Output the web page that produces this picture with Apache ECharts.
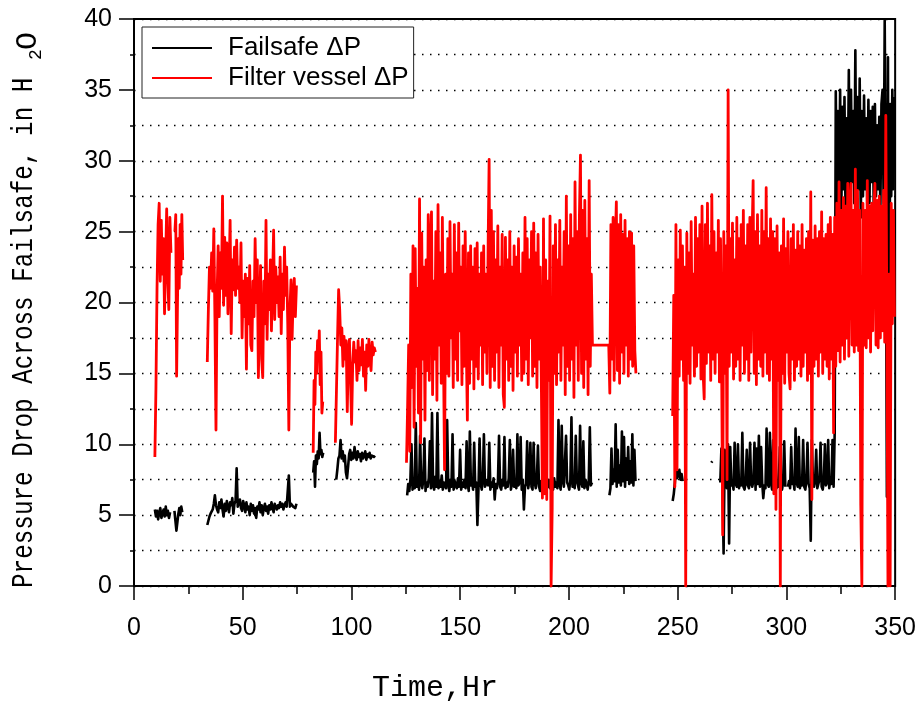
<!DOCTYPE html>
<html><head><meta charset="utf-8">
<script src="https://cdn.jsdelivr.net/npm/echarts@6/dist/echarts.min.js"></script>
<style>html,body{margin:0;padding:0;background:#fff}#c{width:919px;height:704px}</style>
</head><body><div id="c"></div>
<script>
// ---------- data (time spans in Hr, values in in H2O) ----------
const seriesNames = ['Failsafe \u0394P', 'Filter vessel \u0394P'];

// Filter vessel ΔP (red)
const redA1Span = [9.6, 17.0];
const redA1 = [9.1, 14.0, 21.0, 25.5, 27.0, 21.5, 25.8, 22.0, 24.5, 19.2, 23.0, 26.6, 21.8, 19.5, 26.0, 23.5];
const redA2Span = [18.8, 22.4];
const redA2 = [25.0, 26.2, 14.8, 20.0, 24.5, 21.0, 25.5, 22.0, 26.2, 23.0];
const redBSpan = [33.7, 74.7];
const redB = [15.8, 19.5, 22.5, 21.0, 23.5, 20.8, 25.2, 19.0, 11.0, 20.5,
  24.0, 19.0, 23.5, 21.0, 27.5, 19.8, 24.6, 20.5, 24.2, 19.2,
  22.0, 25.8, 17.8, 23.0, 20.9, 23.9, 20.5, 24.4, 21.0, 22.5,
  20.0, 24.2, 17.5, 21.5, 19.0, 22.0, 15.3, 21.7, 18.5, 22.6,
  17.0, 16.6, 21.5, 19.0, 24.5, 20.0, 23.0, 14.7, 19.5, 22.6,
  16.0, 14.7, 21.5, 18.5, 25.8, 17.4, 22.0, 19.5, 23.0, 18.0,
  21.5, 25.1, 18.8, 22.5, 20.0, 21.8, 19.0, 23.2, 17.8, 22.0,
  19.5, 23.9, 20.5, 22.5, 18.5, 11.0, 19.5, 21.6, 17.4, 20.5,
  21.7, 19.0, 21.2];
const redCSpan = [82.4, 86.8];
const redC = [9.4, 14.5, 12.8, 16.5, 15.0, 17.3, 16.0, 18.0, 14.2, 16.5, 12.2, 13.0];
const redDSpan = [92.6, 111.0];
const redD = [10.1, 13.8, 17.5, 20.9, 19.5, 17.0, 18.2, 15.5, 17.6, 16.0,
  17.3, 12.3, 16.5, 17.4, 14.5, 11.4, 15.5, 17.2, 15.8, 16.6,
  14.5, 17.3, 15.2, 16.8, 15.6, 17.4, 14.8, 16.5, 13.8, 17.0,
  15.5, 17.4, 16.0, 15.2, 17.2, 16.3, 16.8, 16.5];
const redESpan = [125.3, 210.8];
const redE = [8.7, 12.5, 17.0, 9.5, 22.0, 14.0, 24.0, 11.2, 23.8, 15.5,
  21.0, 12.2, 27.3, 10.1, 24.9, 16.0, 22.5, 11.7, 23.0, 15.2,
  26.2, 14.5, 24.0, 26.4, 13.5, 21.5, 16.0, 25.0, 13.1, 26.9,
  17.0, 23.5, 14.3, 26.0, 16.5, 8.2, 22.0, 15.0, 24.5, 14.8,
  25.7, 17.5, 22.0, 14.0, 25.5, 16.0, 23.5, 14.5, 25.6, 18.0,
  22.5, 14.2, 24.0, 15.5, 25.0, 17.0, 11.7, 23.5, 14.3, 24.0,
  16.0, 22.5, 13.9, 23.8, 15.5, 24.2, 14.6, 22.0, 17.0, 23.5,
  14.2, 24.0, 16.5, 22.0, 15.0, 23.5, 30.1, 14.0, 26.5, 15.5,
  25.0, 14.5, 23.0, 16.5, 25.4, 14.0, 22.5, 17.0, 24.8, 13.5,
  12.6, 24.6, 16.0, 23.0, 14.5, 25.0, 15.5, 22.5, 13.8, 24.0,
  16.5, 23.2, 14.8, 24.5, 17.0, 22.0, 14.5, 23.5, 15.0, 26.0,
  16.0, 24.5, 14.2, 23.0, 17.5, 25.0, 14.8, 25.6, 15.5, 23.5,
  14.0, 24.8, 16.0, 22.5, 14.5, 6.2, 25.9, 6.5, 23.0, 6.1,
  21.5, 14.5, 26.1, 0.0, 5.5, 24.0, 15.0, 25.5, 14.2, 23.0,
  16.5, 25.8, 14.5, 22.5, 17.0, 25.0, 13.5, 27.5, 15.5, 24.0,
  14.5, 26.2, 16.0, 24.5, 13.3, 28.5, 17.0, 25.0, 14.5, 26.0,
  30.4, 15.0, 26.5, 14.0, 27.2, 16.0, 24.5, 13.5, 28.6, 15.5,
  22.0, 17.0];
const redFSpan = [218.3, 230.8];
const redF = [17.0, 13.6, 25.5, 16.0, 26.0, 14.5, 24.0, 27.1, 15.2, 25.5,
  14.3, 26.2, 16.5, 24.8, 15.0, 25.8, 17.0, 24.5, 14.8, 25.0,
  16.0, 24.9, 15.5, 24.0, 16.6, 15.0];
const redGSpan = [247.7, 349.7];
const redG = [12.0, 20.5, 7.0, 25.5, 8.2, 23.0, 14.8, 25.1, 16.0, 24.0,
  14.5, 22.5, 0.0, 24.9, 15.0, 23.5, 14.3, 25.7, 17.0, 22.0,
  14.8, 26.0, 15.5, 24.5, 16.5, 25.5, 14.6, 26.8, 15.0, 13.2,
  25.5, 15.7, 27.0, 16.5, 24.0, 14.5, 27.6, 16.0, 25.0, 15.0,
  23.5, 16.5, 25.8, 14.4, 24.5, 16.0, 3.6, 25.0, 15.0, 24.0,
  7.5, 35.0, 15.5, 24.5, 16.5, 25.6, 14.6, 23.0, 15.5, 26.0,
  16.0, 24.5, 14.5, 25.5, 17.0, 26.5, 15.0, 24.0, 16.0, 25.5,
  14.5, 26.0, 16.5, 24.5, 28.6, 15.0, 25.0, 14.2, 26.2, 16.0,
  24.0, 15.5, 26.5, 14.8, 25.0, 16.5, 28.1, 15.0, 24.5, 14.5,
  25.9, 16.0, 25.0, 6.5, 24.5, 5.4, 25.4, 14.5, 23.5, 0.0,
  24.0, 15.0, 25.9, 14.3, 23.8, 16.5, 25.0, 15.0, 13.9, 24.5,
  16.0, 25.5, 14.5, 23.7, 15.5, 25.0, 16.0, 24.0, 14.8, 25.5,
  15.5, 23.7, 16.5, 24.5, 14.5, 25.0, 15.0, 27.8, 6.1, 24.4,
  15.5, 25.4, 16.0, 24.5, 14.8, 25.0, 16.5, 26.4, 15.0, 24.5,
  16.0, 24.8, 15.5, 25.5, 14.6, 26.0, 16.0, 24.8, 10.8, 26.0,
  15.5, 27.0, 16.6, 28.5, 15.8, 26.5, 17.0, 27.4, 16.0, 26.8,
  17.5, 28.4, 16.2, 27.0, 28.4, 17.0, 26.5, 16.5, 29.4, 17.0,
  27.9, 16.6, 26.5, 5.7, 0.0, 27.0, 17.0, 26.5, 16.8, 28.6,
  17.5, 26.8, 16.5, 27.0, 18.0, 26.5, 28.4, 17.0, 27.2, 16.8,
  27.5, 17.5, 26.8, 18.0, 27.9, 17.2, 33.2, 18.5, 0.0, 22.0,
  0.0, 27.0, 18.5, 26.5, 19.0];

// Failsafe ΔP (black)
const blkA1Span = [9.6, 16.6];
const blkA1 = [5.4, 4.9, 5.3, 4.7, 5.2, 5.5, 4.8, 5.1, 5.4, 4.9, 5.6, 5.0, 5.3, 4.8, 5.2];
const blkA2Span = [18.6, 22.2];
const blkA2 = [5.3, 4.6, 3.9, 4.5, 5.1, 5.5, 5.0, 5.6, 5.2];
const blkBSpan = [33.7, 74.7];
const blkB = [4.3, 4.6, 4.9, 5.1, 5.0, 5.4, 5.8, 6.4, 5.7, 5.4,
  5.2, 5.9, 5.5, 6.1, 5.4, 4.9, 5.8, 5.3, 6.0, 5.6,
  5.2, 5.9, 5.7, 6.2, 5.1, 5.8, 6.0, 8.3, 5.6, 5.9,
  6.1, 5.5, 5.3, 6.0, 5.7, 5.2, 5.9, 5.4, 5.6, 5.0,
  5.8, 5.3, 5.7, 5.1, 5.5, 4.8, 5.6, 5.4, 5.9, 5.2,
  5.7, 5.0, 5.5, 5.8, 5.3, 5.6, 5.1, 5.7, 5.4, 5.9,
  5.5, 5.2, 5.8, 5.6, 5.4, 5.7, 5.5, 5.9, 5.6, 5.8,
  5.4, 5.7, 5.9, 5.6, 5.5, 7.8, 5.6, 5.8, 5.9, 5.6,
  5.7, 5.5, 5.8];
const blkCSpan = [82.4, 87.0];
const blkC = [8.0, 8.8, 7.0, 9.2, 8.6, 9.5, 9.0, 10.8, 9.3, 9.6, 9.1, 9.4];
const blkDSpan = [93.0, 110.8];
const blkD = [7.5, 8.2, 9.0, 9.2, 10.3, 9.0, 9.5, 8.8, 9.2, 8.0,
  7.6, 8.4, 9.3, 9.6, 8.9, 9.4, 9.0, 9.8, 9.2, 8.9,
  9.5, 9.1, 9.3, 8.8, 9.4, 9.0, 9.2, 9.5, 8.9, 9.3,
  9.1, 9.4, 9.0, 9.2, 9.3, 9.1, 9.2];
const blkESpan = [125.6, 210.6];
const blkE = [6.4, 7.2, 6.7, 7.5, 10.0, 6.8, 7.4, 6.9, 11.5, 7.0,
  7.6, 6.8, 10.6, 7.2, 6.9, 7.5, 10.4, 6.7, 7.3, 7.0,
  7.6, 10.2, 6.9, 12.2, 7.1, 6.8, 7.7, 7.0, 12.2, 6.9,
  7.4, 7.0, 7.8, 6.8, 7.3, 7.1, 6.9, 11.7, 7.2, 6.7,
  7.5, 7.0, 10.7, 6.8, 7.4, 7.1, 6.9, 7.6, 7.0, 9.6,
  6.8, 7.3, 7.0, 7.5, 6.9, 10.2, 7.2, 6.7, 10.9, 7.1,
  7.4, 6.8, 10.1, 7.0, 7.3, 4.3, 6.9, 10.4, 7.2, 6.8,
  7.5, 10.7, 7.0, 6.9, 7.4, 7.1, 10.1, 6.8, 7.3, 7.0,
  7.6, 6.1, 7.2, 6.9, 7.4, 10.6, 7.0, 6.8, 7.5, 7.1,
  10.5, 6.9, 7.3, 7.0, 7.6, 10.3, 6.8, 7.2, 9.6, 7.0,
  7.4, 6.9, 10.7, 7.1, 7.3, 10.5, 6.8, 7.5, 5.4, 7.0,
  7.2, 10.2, 6.9, 7.4, 10.1, 7.0, 6.8, 10.1, 7.3, 6.9,
  7.5, 9.9, 7.0, 6.7, 7.4, 6.9, 7.6, 7.1, 6.8, 7.3,
  7.0, 7.5, 6.9, 7.2, 7.4, 6.8, 7.6, 7.0, 7.3, 6.9,
  11.7, 7.2, 6.8, 11.3, 7.4, 7.0, 6.9, 10.6, 7.3, 7.1,
  6.8, 7.5, 11.9, 7.0, 7.2, 6.9, 10.6, 7.4, 7.1, 6.8,
  11.3, 7.3, 7.0, 10.2, 6.9, 7.5, 7.2, 6.8, 7.4, 11.2,
  7.1, 7.3];
const blkFSpan = [218.6, 230.6];
const blkF = [6.4, 6.9, 9.7, 7.2, 8.2, 7.4, 11.4, 7.0, 9.6, 7.3,
  8.5, 7.1, 10.9, 7.4, 10.5, 7.0, 9.0, 7.5, 9.8, 7.2,
  8.8, 7.3, 10.7, 7.1, 9.6, 7.4];
const blkG1Span = [247.7, 252.3];
const blkG1 = [6.0, 6.5, 7.3, 8.4, 7.6, 7.8, 8.2, 7.5, 7.9, 7.4];
const blkDotSpan = [265.5, 265.9];
const blkDot = [8.7, 8.8];
const blkG2Span = [269.6, 299.5];
const blkG2 = [7.3, 9.7, 7.0, 2.3, 9.6, 7.2, 6.9, 10.0, 3.0, 9.8,
  7.1, 7.4, 6.8, 10.1, 7.2, 7.0, 10.0, 6.9, 7.4, 7.1,
  10.8, 7.0, 6.8, 7.3, 9.6, 7.1, 6.9, 10.1, 7.2, 7.0,
  7.4, 10.1, 6.8, 9.7, 7.2, 10.6, 7.0, 9.8, 7.3, 6.2,
  7.1, 6.9, 11.1, 7.2, 7.0, 10.8, 7.3, 6.8, 10.3, 7.1,
  10.2, 6.9, 7.4, 7.0, 9.8, 7.2, 6.8, 7.3, 10.2, 7.0];
const blkG3Span = [300.7, 349.7];
const blkG3 = [7.0, 7.4, 6.9, 9.8, 7.2, 7.5, 6.8, 11.1, 7.3, 7.0,
  10.5, 6.9, 7.4, 7.1, 10.3, 7.0, 6.8, 7.5, 10.1, 7.2,
  6.9, 3.2, 10.3, 7.3, 7.0, 7.4, 9.6, 6.9, 7.2, 7.5,
  10.1, 7.0, 6.8, 7.4, 10.0, 7.1, 7.3, 10.3, 6.9, 7.5,
  7.2, 10.3, 7.0, 10.8,
  34.9, 26.5, 33.5, 27.0, 35.0, 25.5, 33.8, 28.0, 34.5, 26.0,
  33.0, 27.5, 36.4, 26.0, 35.0, 28.5, 33.5, 27.0, 37.8, 26.5,
  34.5, 28.0, 35.8, 26.0, 33.5, 27.5, 34.6, 28.0, 33.0, 26.5,
  34.3, 27.0, 33.5, 28.5, 33.8, 26.0, 34.0, 27.5, 32.5, 28.0,
  33.1, 26.5, 34.0, 35.0, 27.0, 39.9, 28.0, 6.3, 37.3, 3.3,
  34.0, 27.5, 35.0, 28.0, 34.5];

// ---------- build series data ----------
function seg(span, vals) {
  const step = (span[1] - span[0]) / (vals.length - 1);
  return vals.map((v, i) => [span[0] + i * step, v]);
}
// parts: [span, values, connectToPrevious]
function build(parts) {
  const out = [];
  parts.forEach((p, k) => {
    if (k > 0 && !p[2]) out.push([p[0][0], '-']);
    out.push(...seg(p[0], p[1]));
  });
  return out;
}
const blackData = build([
  [blkA1Span, blkA1], [blkA2Span, blkA2], [blkBSpan, blkB], [blkCSpan, blkC],
  [blkDSpan, blkD], [blkESpan, blkE], [blkFSpan, blkF], [blkG1Span, blkG1],
  [blkDotSpan, blkDot], [blkG2Span, blkG2], [blkG3Span, blkG3]
]);
const redData = build([
  [redA1Span, redA1], [redA2Span, redA2], [redBSpan, redB], [redCSpan, redC],
  [redDSpan, redD], [redESpan, redE], [redFSpan, redF, true], [redGSpan, redG]
]);

const dotted = { color: '#000', width: 1.3, type: [1.5, 6.5] };
const chart = echarts.init(document.getElementById('c'), null, { renderer: 'canvas' });
chart.setOption({
  animation: false,
  backgroundColor: '#fff',
  grid: { left: 134, right: 23, top: 19, bottom: 118, show: true, borderColor: '#000', borderWidth: 2, backgroundColor: 'transparent' },
  legend: {
    data: seriesNames,
    left: 142, top: 27, orient: 'vertical',
    icon: 'rect', itemWidth: 60, itemHeight: 2, itemGap: 4,
    padding: [8, 5, 7, 10],
    borderColor: '#222', borderWidth: 1, backgroundColor: '#fff',
    textStyle: { fontFamily: 'Liberation Sans', fontSize: 26, color: '#000', padding: [0, 0, 0, 11] }
  },
  xAxis: {
    type: 'value', min: 0, max: 350, interval: 50,
    axisLine: { show: true, onZero: false, lineStyle: { color: '#000', width: 2 } },
    axisTick: { show: true, length: 14, lineStyle: { color: '#000', width: 1.5 } },
    minorTick: { show: true, splitNumber: 2, length: 8, lineStyle: { color: '#000', width: 1.5 } },
    splitLine: { show: false },
    axisLabel: { fontFamily: 'Liberation Sans', fontSize: 25, color: '#000', margin: 30 }
  },
  yAxis: {
    type: 'value', min: 0, max: 40, interval: 5,
    axisLine: { show: true, onZero: false, lineStyle: { color: '#000', width: 2 } },
    axisTick: { show: true, length: 15, lineStyle: { color: '#000', width: 1.5 } },
    minorTick: { show: true, splitNumber: 2, length: 4, lineStyle: { color: '#000', width: 1.5 } },
    splitLine: { show: true, lineStyle: dotted },
    minorSplitLine: { show: true, lineStyle: dotted },
    axisLabel: { fontFamily: 'Liberation Sans', fontSize: 25, color: '#000', margin: 22 }
  },
  series: [
    { name: seriesNames[0], type: 'line', data: blackData, showSymbol: false, symbol: 'none',
      lineStyle: { color: '#000', width: 2.6, join: 'round' }, itemStyle: { color: '#000' }, z: 2 },
    { name: seriesNames[1], type: 'line', data: redData, showSymbol: false, symbol: 'none',
      lineStyle: { color: '#ff0000', width: 2.8, join: 'round' }, itemStyle: { color: '#ff0000' }, z: 3 }
  ],
  graphic: [
    { type: 'text', x: 24, y: 588, rotation: Math.PI / 2, scaleX: 0.81, silent: true,
      style: { text: 'Pressure Drop Across Failsafe, in H', font: '30px "Liberation Mono"', fill: '#000', align: 'left', verticalAlign: 'middle', textAlign: 'left', textVerticalAlign: 'middle' } },
    { type: 'text', x: 36, y: 60, rotation: Math.PI / 2, silent: true,
      style: { text: '2', font: '18px "Liberation Mono"', fill: '#000', align: 'left', verticalAlign: 'middle', textAlign: 'left', textVerticalAlign: 'middle' } },
    { type: 'text', x: 28, y: 50, rotation: Math.PI / 2, silent: true,
      style: { text: 'O', font: '30px "Liberation Mono"', fill: '#000', align: 'left', verticalAlign: 'middle', textAlign: 'left', textVerticalAlign: 'middle' } },
    { type: 'text', x: 372, y: 688, silent: true,
      style: { text: 'Time,Hr', font: '30px "Liberation Mono"', fill: '#000', align: 'left', verticalAlign: 'middle', textAlign: 'left', textVerticalAlign: 'middle' } }
  ]
});
</script></body></html>
